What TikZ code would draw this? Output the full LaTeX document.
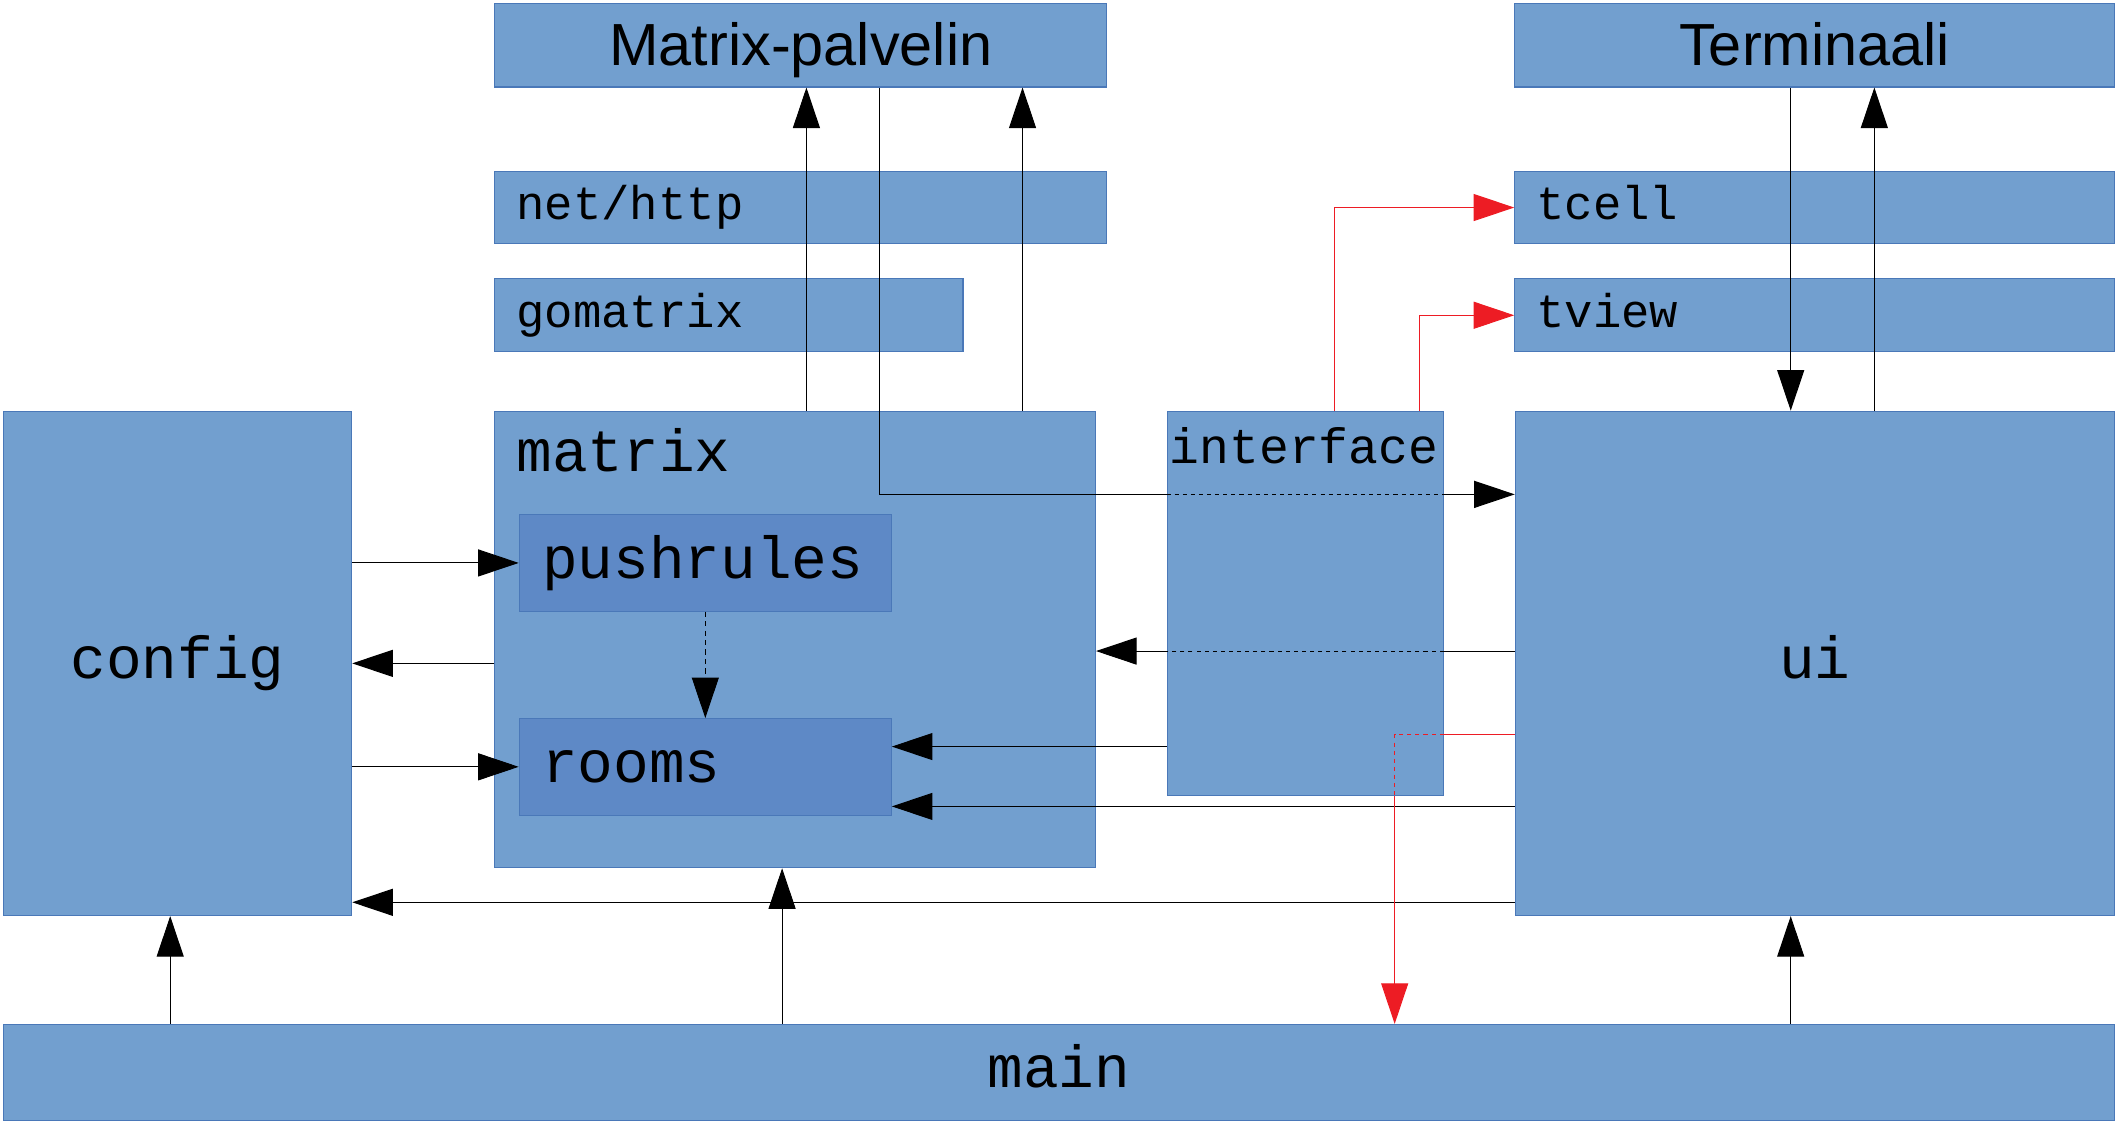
\documentclass[tikz,border=0pt]{standalone}
\usepackage{fontspec}
\setmainfont{Liberation Sans}
\newfontfamily\pkgfont{Liberation Mono}
\usetikzlibrary{arrows.meta}
\definecolor{pkgfill}{HTML}{729FCF}
\definecolor{subfill}{HTML}{5E89C6}
\definecolor{pkgline}{HTML}{4A78B8}
\definecolor{depred}{HTML}{ED1C24}

\begin{document}
\begin{tikzpicture}[x=1pt, y=-1pt, ->, >={Triangle[length=30pt, width=20pt]},
line width=0.7pt,
pkg/.style ={draw=pkgline, fill=pkgfill, line width=0.8pt, inner sep=0pt,
  anchor=north west, minimum width=#1},
big/.style ={font=\fontsize{44}{50}\selectfont, text height=36pt, text depth=6pt},
code/.style ={font=\pkgfont\fontsize{44}{50}\selectfont, text height=32pt, text depth=9pt},
small/.style ={font=\pkgfont\fontsize{35}{40}\selectfont, text height=25.5pt, text depth=7.4pt},
tag/.style ={small, anchor=west, inner sep=0pt, xshift=16pt},
dep/.style ={draw=depred},
hid/.style ={-, dash pattern=on 3pt off 3pt}
]
\useasboundingbox (0,0) rectangle (1568,831.4);

\node[pkg=453pt, minimum height=62pt, big] (srv) at (366,2) {Matrix-palvelin};
\node[pkg=444pt, minimum height=62pt, big] (term) at (1121,2) {Terminaali};
\node[pkg=453pt, minimum height=53.5pt, label={[tag]west:net/http}] (http) at (366,126.5) {};
\node[pkg=444pt, minimum height=53.5pt, label={[tag]west:tcell}] (tcell) at (1121,126.5) {};
\node[pkg=346.5pt, minimum height=54pt, label={[tag]west:gomatrix}] (gomatrix) at (366,206) {};
\node[pkg=444pt, minimum height=54pt, label={[tag]west:tview}] (tview) at (1121,206) {};
\node[pkg=258pt, minimum height=373.4pt, code] (config) at (2,304) {config};
\node[pkg=444.6pt, minimum height=338pt,
  label={[code, anchor=base west, inner sep=0pt, xshift=16pt, yshift=-45pt]north west:matrix}]
  (matrix) at (366,304) {};
\node[pkg=275.5pt, minimum height=71.3pt, fill=subfill,
  label={[code, anchor=west, inner sep=0pt, xshift=17pt]west:pushrules}] (pushrules) at (384,380.7) {};
\node[pkg=275.5pt, minimum height=71.4pt, fill=subfill,
  label={[code, anchor=west, inner sep=0pt, xshift=17pt]west:rooms}] (rooms) at (384,531.6) {};
\node[pkg=204.4pt, minimum height=284.6pt,
  label={[code, font=\pkgfont\fontsize{36.8}{42}\selectfont, anchor=base west, inner sep=0pt,
  xshift=2pt, yshift=-39pt]north west:interface}] (interface) at (863.6,304) {};
\node[pkg=443.6pt, minimum height=373.4pt, code] (ui) at (1121.4,304) {ui};
\node[pkg=1563pt, minimum height=71pt, code] (main) at (2,758) {main};

\coordinate (up1) at (597,0);
\coordinate (up2) at (757,0);
\coordinate (srvdown) at (651,366);
\coordinate (termdown) at (1325.7,0);
\coordinate (termup) at (1387.6,0);
\coordinate (tocell) at (988,0);
\coordinate (toview) at (1050.5,0);
\coordinate (uimatrix) at (0,482);
\coordinate (ifrooms) at (0,552.7);
\coordinate (uirooms) at (0,597);
\coordinate (uiconfig) at (0,668);
\coordinate (uimain) at (1032.5,544);
\coordinate (mainconfig) at (126,0);
\coordinate (mainmatrix) at (579,0);

\draw (matrix.north -| up1) -- (srv.south -| up1);
\draw (matrix.north -| up2) -- (srv.south -| up2);
\draw[-] (srv.south -| srvdown) |- (interface.west |- srvdown);
\draw[hid] (interface.west |- srvdown) -- (interface.east |- srvdown);
\draw (interface.east |- srvdown) -- (ui.west |- srvdown);
\draw (term.south -| termdown) -- (ui.north -| termdown);
\draw (ui.north -| termup) -- (term.south -| termup);
\draw[dep] (interface.north -| tocell) |- (tcell.west);
\draw[dep] (interface.north -| toview) |- (tview.west);

\draw (config.east |- pushrules.west) -- (pushrules.west);
\draw (matrix.west |- config.east) -- (config.east);
\draw (config.east |- rooms.west) -- (rooms.west);
\draw[dash pattern=on 4pt off 3pt] (pushrules.south) -- (rooms.north);

\draw[-] (ui.west |- uimatrix) -- (interface.east |- uimatrix);
\draw[hid] (interface.east |- uimatrix) -- (interface.west |- uimatrix);
\draw (interface.west |- uimatrix) -- (matrix.east |- uimatrix);
\draw (interface.west |- ifrooms) -- (rooms.east |- ifrooms);
\draw (ui.west |- uirooms) -- (rooms.east |- uirooms);
\draw (ui.west |- uiconfig) -- (config.east |- uiconfig);
\draw[dep, -] (ui.west |- uimain) -- (interface.east |- uimain);
\draw[dep, hid] (interface.east |- uimain) -- (uimain) -- (uimain |- interface.south);
\draw[dep] (uimain |- interface.south) -- (uimain |- main.north);

\draw (main.north -| mainconfig) -- (config.south -| mainconfig);
\draw (main.north -| mainmatrix) -- (matrix.south -| mainmatrix);
\draw (main.north -| termdown) -- (ui.south -| termdown);
\end{tikzpicture}
\end{document}
